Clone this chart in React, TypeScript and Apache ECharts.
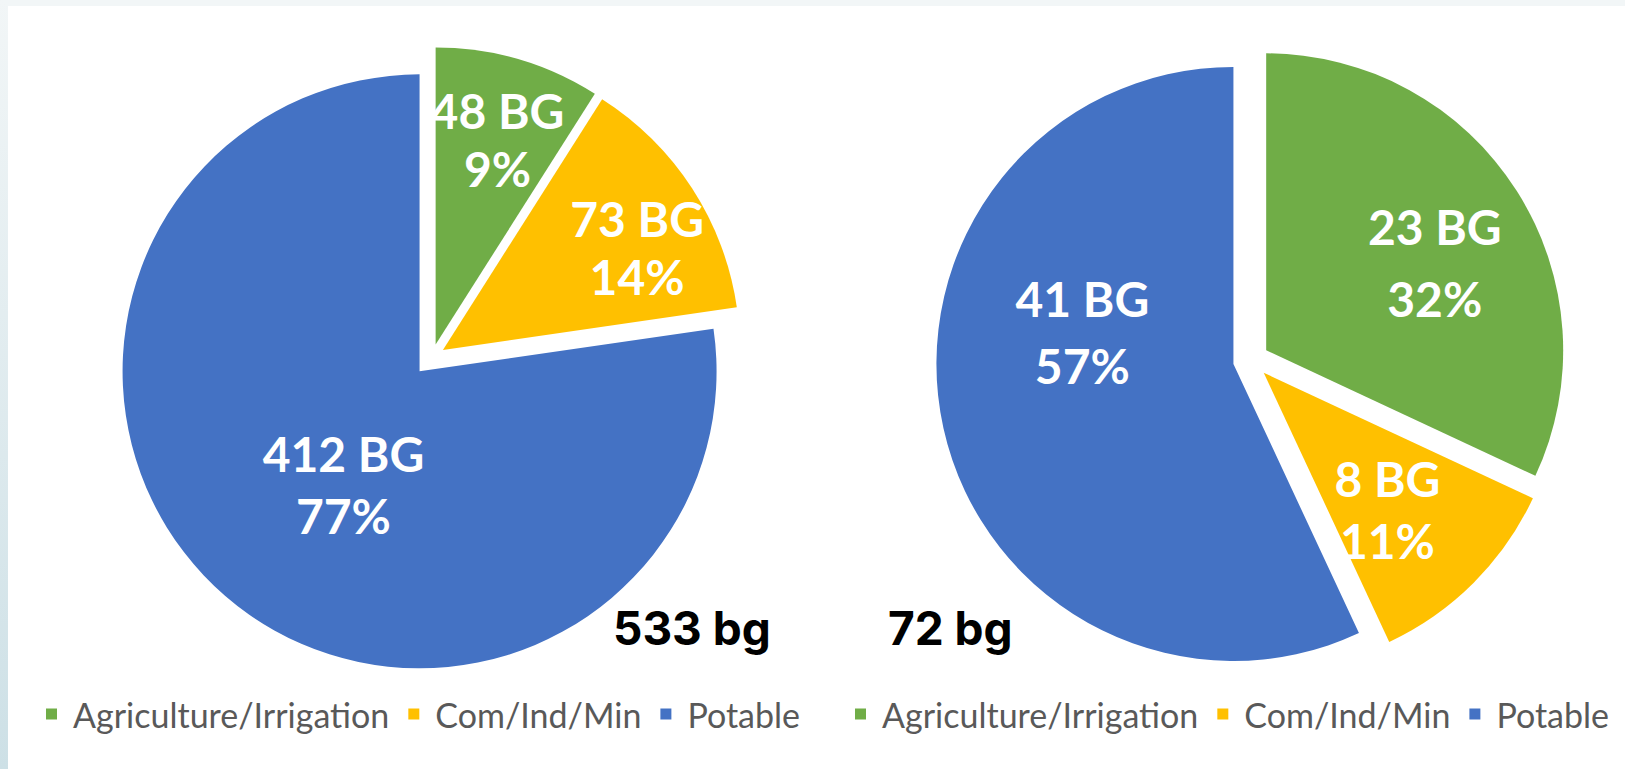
import React, { useEffect, useRef } from "react";
import * as echarts from "echarts";

// ---- data ----
const categories = ["Agriculture/Irrigation", "Com/Ind/Min", "Potable"];
const leftValues = [48, 73, 412];
const rightValues = [23, 8, 41];
const unitLabel = "BG";
const totalUnit = "bg";

// ---- style / layout ----
const COLORS = ["#70AD47", "#FFC000", "#4472C4"];
const W = 1625;
const H = 769;
const PIES = [
  {
    values: leftValues,
    cx: 432,
    cy: 357,
    r: 297,
    offset: [13, 13, 19],
    labelFrac: [0.72, 0.74, 0.46],
    labelTurn: [0.6, 5, -7],
    lineHeight: [58, 58, 62],
    legendLeft: 41,
    totalLeft: 613,
  },
  {
    values: rightValues,
    cx: 1251,
    cy: 360,
    r: 297,
    offset: [18, 18, 18],
    labelFrac: [0.64, 0.62, 0.52],
    labelTurn: [5, 2.8, 24.5],
    lineHeight: [72, 62, 67],
    legendLeft: 850,
    totalLeft: 888,
  },
];

function buildOption() {
  const series: any[] = [];
  PIES.forEach((pie, pi) => {
    const total = pie.values.reduce((a, b) => a + b, 0);
    pie.values.forEach((_, si) => {
      // one series per slice so each slice can be pulled out along its own bisector
      let before = 0;
      for (let k = 0; k < si; k++) before += pie.values[k];
      const mid = ((before + pie.values[si] / 2) / total) * 360;
      const rad = (mid * Math.PI) / 180;
      const ox = pie.cx + pie.offset[si] * Math.sin(rad);
      const oy = pie.cy - pie.offset[si] * Math.cos(rad);
      const la = ((mid + pie.labelTurn[si]) * Math.PI) / 180;
      const lx = ox + pie.labelFrac[si] * pie.r * Math.sin(la);
      const ly = oy - pie.labelFrac[si] * pie.r * Math.cos(la);
      series.push({
        type: "pie",
        name: "pie" + pi + "-" + si,
        center: [ox, oy],
        radius: [0, pie.r],
        startAngle: 90,
        clockwise: true,
        percentPrecision: 0,
        avoidLabelOverlap: false,
        emphasis: { disabled: true },
        label: {
          show: true,
          position: "inside",
          color: "#ffffff",
          fontFamily: "Lato",
          fontWeight: "bold",
          fontSize: 48,
          lineHeight: pie.lineHeight[si],
          formatter: "{c} " + unitLabel + "\n{d}%",
        },
        labelLine: { show: false },
        labelLayout: (p: any) =>
          p.dataIndex === si
            ? { x: lx, y: ly, align: "center", verticalAlign: "middle" }
            : {},
        data: pie.values.map((v, i) => ({
          value: v,
          name: categories[i],
          itemStyle: { color: i === si ? COLORS[i] : "rgba(0,0,0,0)" },
          label: { show: i === si },
        })),
      });
    });
  });

  const legends = PIES.map((pie) => ({
    show: true,
    data: categories.map((c, i) => ({ name: c, itemStyle: { color: COLORS[i] } })),
    left: pie.legendLeft,
    top: 692,
    width: 820,
    orient: "horizontal",
    icon: "rect",
    itemWidth: 11,
    itemHeight: 11,
    itemGap: 19,
    selectedMode: false,
    textStyle: {
      fontFamily: "Lato",
      fontSize: 34,
      lineHeight: 34,
      color: "#595959",
      padding: [0, 0, 0, 11],
    },
  }));

  const titles = PIES.map((pie) => ({
    text: pie.values.reduce((a, b) => a + b, 0) + " " + totalUnit,
    left: pie.totalLeft,
    top: 605,
    padding: 0,
    textStyle: {
      fontFamily: "Inter",
      fontWeight: 700,
      fontSize: 46,
      color: "#000000",
    },
  }));

  return {
    animation: false,
    backgroundColor: "#ffffff",
    title: titles,
    legend: legends,
    graphic: [
      {
        type: "rect",
        silent: true,
        z: -10,
        shape: { x: 0, y: 0, width: W, height: 6 },
        style: { fill: "#f2f6f7" },
      },
      {
        type: "rect",
        silent: true,
        z: -10,
        shape: { x: 0, y: 0, width: 8, height: H },
        style: {
          fill: new echarts.graphic.LinearGradient(0, 0, 0, 1, [
            { offset: 0, color: "#f2f6f7" },
            { offset: 1, color: "#cde0e6" },
          ]),
        },
      },
    ],
    series,
  };
}

export default function App() {
  const ref = useRef<HTMLDivElement>(null);
  useEffect(() => {
    if (!ref.current) return;
    const chart = echarts.init(ref.current, undefined, { renderer: "svg" });
    chart.setOption(buildOption() as any);
    return () => chart.dispose();
  }, []);
  return (
    <div
      ref={ref}
      style={{ position: "fixed", left: 0, top: 0, width: W, height: H }}
    />
  );
}
